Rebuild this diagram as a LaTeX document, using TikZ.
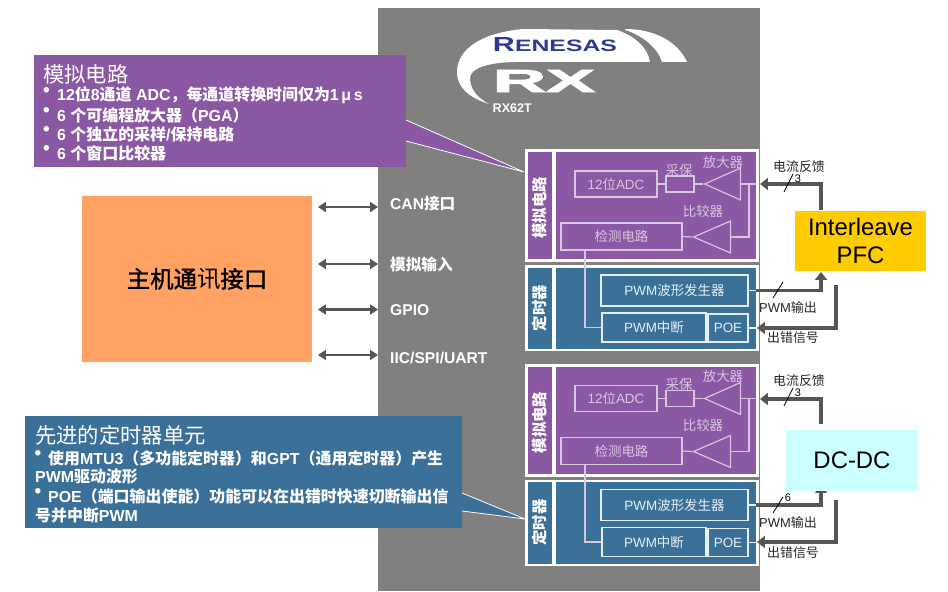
\documentclass[tikz,border=0pt]{standalone}
\usepackage{fontspec}
\usepackage{graphicx}
\usetikzlibrary{shapes.geometric,arrows.meta}
\setmainfont{Liberation Sans}
\newfontfamily\zh{Noto Sans CJK SC}
\newfontfamily\zhmedium[FakeBold=1.5]{Noto Sans CJK SC}
\newfontfamily\heavylatin[FakeBold=2.5]{Liberation Sans}
\newcommand{\hanfont}{\zh}
% Han characters and full-width punctuation switch to the CJK family by themselves
\newXeTeXintercharclass\hancls
\newcount\hanpos
\newcommand{\markhan}[2]{\hanpos=#1\relax
  \loop\XeTeXcharclass\hanpos=\hancls\ifnum\hanpos<#2\advance\hanpos by 1\repeat}
\markhan{"4E00}{"9FFF}
\markhan{"3000}{"303F}
\markhan{"FF00}{"FFEF}
\XeTeXinterchartokenstate=1
\XeTeXinterchartoks 0 \hancls = {\begingroup\hanfont}
\XeTeXinterchartoks 4095 \hancls = {\begingroup\hanfont}
\XeTeXinterchartoks \hancls 0 = {\endgroup}
\XeTeXinterchartoks \hancls 4095 = {\endgroup}

\definecolor{chipgrey}{HTML}{808080}
\definecolor{anapurple}{HTML}{8B58A3}
\definecolor{timblue}{HTML}{3B7199}
\definecolor{hostorange}{HTML}{FFA264}
\definecolor{pfcyellow}{HTML}{FFCC00}
\definecolor{dccyan}{HTML}{CCFFFF}
\definecolor{linkgrey}{HTML}{555555}
\definecolor{purpleline}{HTML}{D6C6E0}
\definecolor{blueline}{HTML}{E6F0F6}
\definecolor{renesasblue}{HTML}{2E3A92}

\tikzset{
  fs/.style={font=\fontsize{#1}{#1}\selectfont},
  fsb/.style={font=\fontsize{#1}{#1}\selectfont\bfseries},
  ablock/.style={draw=purpleline,line width=1.2pt,text=purpleline,inner sep=0pt,fs=13.5},
  tblock/.style={draw=blueline,line width=1.2pt,text=blueline,inner sep=0pt,fs=13.5},
  aline/.style={draw=purpleline,line width=1.2pt},
  tline/.style={draw=blueline,line width=1.2pt},
  atri/.style={isosceles triangle,isosceles triangle stretches,shape border rotate=180,
    draw=purpleline,line width=1.2pt,inner sep=0pt,anchor=apex},
  alabel/.style={text=purpleline,inner sep=0pt,fs=13.5},
  vlabel/.style={rotate=90,text=white,inner sep=0pt,fsb=15.5},
  biglink/.style={draw=linkgrey,line width=3.6pt,-{Triangle[length=8pt,width=12pt]}},
  hostlink/.style={draw=linkgrey,line width=2.4pt,{Triangle[length=8pt,width=10pt]}-{Triangle[length=8pt,width=10pt]}},
  portlabel/.style={anchor=west,text=white,inner sep=0pt,fsb=15.7},
  sidelabel/.style={text=black!85,inner sep=0pt,fs=13},
  tick/.style={draw=black,line width=0.8pt},
  cnt/.style={inner sep=0pt,fs=11},
  calltitle/.style={anchor=west,text=white,inner sep=0pt,fs=21.4},
  callline/.style={anchor=west,text=white,inner sep=0pt,fsb=16},
  bul/.style={anchor=west,text=white,inner sep=0pt,fsb=19},
  powerbox/.style={inner sep=0pt,fs=24,align=center,text=black}
}

% One converter channel on the chip: analog section above, timer section below
\newcommand{\mcublock}[2]{%
\begin{scope}[shift={(0,#2)}]
  \fill[white] (525,149) rectangle (759,262);
  \fill[anapurple] (528,152) rectangle (552,259);
  \fill[anapurple] (556,152) rectangle (756,259);
  \fill[white] (525,265) rectangle (759,351);
  \fill[timblue] (528,267.5) rectangle (552,349);
  \fill[timblue] (556,267.5) rectangle (756,349);
  \node[vlabel] (#1anatitle) at (540,208) {模拟电路};
  \node[vlabel] (#1timtitle) at (540,308) {定时器};
  \node[ablock,minimum width=82bp,minimum height=26bp] (#1adc) at (616,184) {12位ADC};
  \node[ablock,minimum width=28bp,minimum height=16bp] (#1sh) at (680,184) {};
  \node[alabel] (#1shtext) at (679,170) {采保};
  \node[atri,minimum width=32bp,minimum height=36bp] (#1amp) at (703,184) {};
  \node[alabel] (#1amptext) at (723,162) {放大器};
  \node[alabel] (#1cmptext) at (703,211) {比较器};
  \node[ablock,minimum width=121bp,minimum height=27bp] (#1det) at (621.5,236.5) {检测电路};
  \node[atri,minimum width=32bp,minimum height=37bp] (#1cmp) at (692,237) {};
  \coordinate (#1feed) at (756,184);
  \coordinate (#1join) at (749,184);
  \coordinate (#1tap) at (585,250);
  \draw[aline] (#1adc.east) -- (#1sh.west);
  \draw[aline] (#1sh.east) -- (#1amp.apex);
  \draw[aline] (#1amp.lower side) -- (#1feed);
  \draw[aline] (#1join) |- (#1cmp.lower side);
  \draw[aline] (#1cmp.apex) -- (#1det.east);
  \node[tblock,minimum width=147bp,minimum height=31bp] (#1gen) at (674.5,290.5) {PWM波形发生器};
  \node[tblock,minimum width=104bp,minimum height=29bp] (#1int) at (654,327.5) {PWM中断};
  \node[tblock,minimum width=40bp,minimum height=28bp] (#1poe) at (728,328) {POE};
  \coordinate (#1genport) at (756,290.5);
  \coordinate (#1poeport) at (756,328);
  \draw[aline] (#1tap) |- (#1int.west);
  \draw[tline] (#1gen.east) -- (#1genport);
  \draw[tline] (#1poe.east) -- (#1poeport);
  \node[sidelabel] (#1fbtext) at (799,166.5) {电流反馈};
  \node[sidelabel] (#1pwmtext) at (788,308) {PWM输出};
  \node[sidelabel] (#1errtext) at (793,338) {出错信号};
\end{scope}}

\begin{document}
\begin{tikzpicture}[x=1bp,y=-1bp]
  \useasboundingbox (0,0) rectangle (948,592);
  \fill[white] (0,0) rectangle (948,592);
  % chip body
  \fill[chipgrey] (378,8) rectangle (760,591);

  % maker's swoosh and chip name
  \fill[white] (489,104) .. controls (470,98) and (457,88) .. (457,72)
     .. controls (457,50) and (480,33) .. (523,29) -- (617,30)
     .. controls (635,36) and (648,48) .. (650,62) -- (517,62)
     .. controls (490,62) and (470,68) .. (470,78)
     .. controls (470,90) and (478,98) .. (489,104) -- cycle;
  \fill[white] (625,30) .. controls (642,35) and (658,48) .. (662,62)
     -- (687,62) .. controls (678,42) and (655,29) .. (625,29) -- cycle;
  \node[inner sep=0pt,text=renesasblue] (brand) at (555,44.5)
     {\resizebox{124bp}{14bp}{\bfseries\fontsize{16}{16}\selectfont R\fontsize{13}{13}\selectfont ENESAS}};
  \node[inner sep=0pt,text=white] (family) at (544,81)
     {\resizebox{102bp}{22bp}{\heavylatin\bfseries RX}};
  \node[inner sep=0pt,anchor=west,text=white,fsb=12.6] (part) at (492.5,108) {RX62T};

  % the two channels
  \mcublock{a}{0}
  \mcublock{b}{214.5}

  % callout pointers
  \coordinate (ctipa) at (524,172);
  \coordinate (ctopa) at (406,120);
  \coordinate (cbota) at (406,141);
  \fill[anapurple] (ctopa) -- (ctipa) -- (cbota) -- cycle;
  \draw[white,line width=0.8pt] (ctopa) -- (ctipa) -- (cbota);
  \coordinate (ctipb) at (525,519);
  \coordinate (ctopb) at (462,493);
  \coordinate (cbotb) at (462,511);
  \fill[timblue] (ctopb) -- (ctipb) -- (cbotb) -- cycle;
  \draw[white,line width=0.8pt] (ctopb) -- (ctipb) -- (cbotb);

  % analog callout
  \fill[anapurple] (34,55) rectangle (406,167);
  \node[calltitle] (atitle) at (43,74) {模拟电路};
  \node[bul] (ab1) at (43,92.5) {•};
  \node[bul] (ab2) at (43,112.5) {•};
  \node[bul] (ab3) at (43,131.5) {•};
  \node[bul] (ab4) at (43,150.5) {•};
  \node[callline] (al1) at (57,95) {12位8通道 ADC，每通道转换时间仅为1\,μ\,s};
  \node[callline] (al2) at (57,115) {6 个可编程放大器（PGA）};
  \node[callline] (al3) at (57,134) {6 个独立的采样/保持电路};
  \node[callline] (al4) at (57,153) {6 个窗口比较器};

  % timer callout
  \fill[timblue] (25,416) rectangle (462,528);
  \node[calltitle] (ttitle) at (35,435) {先进的定时器单元};
  \node[bul] (tb1) at (34.5,455.5) {•};
  \node[bul] (tb2) at (34.5,493.5) {•};
  \node[callline] (tl1) at (48,458) {使用MTU3（多功能定时器）和GPT（通用定时器）产生};
  \node[callline] (tl2) at (35,477) {PWM驱动波形};
  \node[callline] (tl3) at (48,496) {POE（端口输出使能）功能可以在出错时快速切断输出信};
  \node[callline] (tl4) at (35,515) {号并中断PWM};

  % host interface and its links to the chip ports
  \node[fill=hostorange,minimum width=230bp,minimum height=166bp,inner sep=0pt,
        fs=23.5,text=black] (host) at (197,279)
        {\raisebox{-2bp}{\renewcommand{\hanfont}{\zhmedium}主机通{\renewcommand{\hanfont}{\zh}讯}接口}};
  \node[portlabel] (pcan) at (390,204) {CAN接口};
  \node[portlabel] (pana) at (390,264) {模拟输入};
  \node[portlabel] (pgpio) at (390,310) {GPIO};
  \node[portlabel] (piic) at (390,358) {IIC/SPI/UART};
  \coordinate (hcan) at (318,207);
  \coordinate (cancp) at (378,207);
  \coordinate (hana) at (318,264);
  \coordinate (anacp) at (378,264);
  \coordinate (hgpio) at (318,309.5);
  \coordinate (gpiocp) at (378,309.5);
  \coordinate (hiic) at (318,355);
  \coordinate (iiccp) at (378,355);
  \draw[hostlink] (hcan) -- (cancp);
  \draw[hostlink] (hana) -- (anacp);
  \draw[hostlink] (hgpio) -- (gpiocp);
  \draw[hostlink] (hiic) -- (iiccp);

  % PFC stage
  \node[fill=pfcyellow,powerbox,minimum width=131bp,minimum height=60bp] (pfc) at (860.5,241)
      {Interleave\\[5pt]PFC};
  \coordinate (pfcfb) at (821,210);
  \coordinate (afbin) at (760,184);
  \coordinate (pfcpwm) at (821,272);
  \coordinate (pfcerr) at (836,285);
  \coordinate (apoein) at (757,328);
  \draw[biglink] (pfcfb) |- (afbin);
  \draw[biglink] (agenport) -| (pfcpwm);
  \draw[biglink] (pfcerr) |- (apoein);

  % DC-DC stage; its box covers the tip of the PWM line
  \coordinate (dcfb) at (821,424);
  \coordinate (bfbin) at (760,399);
  \coordinate (dcpwm) at (821,485);
  \coordinate (dcerr) at (836,500);
  \coordinate (bpoein) at (757,542);
  \draw[biglink] (dcfb) |- (bfbin);
  \draw[biglink] (bgenport) -| (dcpwm);
  \draw[biglink] (dcerr) |- (bpoein);
  \node[fill=dccyan,powerbox,minimum width=132bp,minimum height=61bp] (dc) at (852,460.5) {DC-DC};

  % bus width marks
  \coordinate (t1a) at (784,192);
  \coordinate (t1b) at (793,174);
  \coordinate (t2a) at (773,298);
  \coordinate (t2b) at (783,282);
  \coordinate (t3a) at (784,406);
  \coordinate (t3b) at (793,388);
  \coordinate (t4a) at (773,513);
  \coordinate (t4b) at (783,497);
  \draw[tick] (t1a) -- (t1b);
  \draw[tick] (t2a) -- (t2b);
  \draw[tick] (t3a) -- (t3b);
  \draw[tick] (t4a) -- (t4b);
  \node[cnt] (w1) at (798,178.5) {3};
  \node[cnt] (w3) at (798,393) {3};
  \node[cnt] (w4) at (788,498) {6};
\end{tikzpicture}
\end{document}
